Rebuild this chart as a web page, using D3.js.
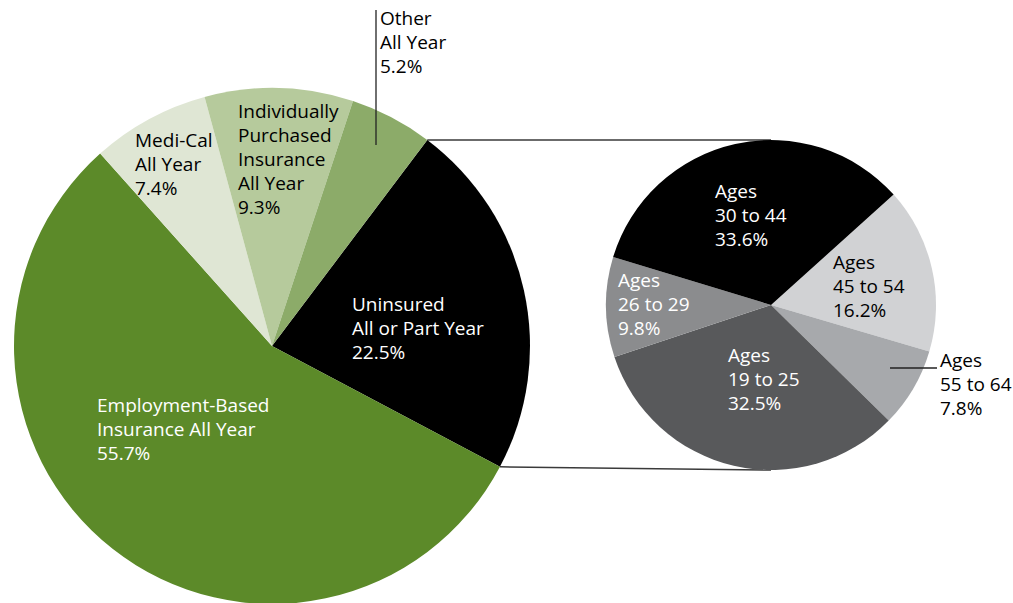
<!DOCTYPE html>
<html>
<head>
<meta charset="utf-8">
<script src="https://cdn.jsdelivr.net/npm/d3@7"></script>
<style>
  html, body { margin: 0; padding: 0; background: #fff; }
  svg { display: block; font-family: "Open Sans", "Noto Sans", sans-serif; }
</style>
</head>
<body>
<svg id="chart" width="1013" height="603"></svg>
<script>
// Insurance coverage (main pie)
const coverageLabels = [
  ["Uninsured", "All or Part Year"],
  ["Employment-Based", "Insurance All Year"],
  ["Medi-Cal", "All Year"],
  ["Individually", "Purchased", "Insurance", "All Year"],
  ["Other", "All Year"]
];
const coverageValues = [22.5, 55.7, 7.4, 9.3, 5.2];
const coverageColors = ["#000000", "#5c8a29", "#dfe6d4", "#b6ca9c", "#8cab69"];
const coverageText = ["#ffffff", "#ffffff", "#000000", "#000000", "#000000"];

// Uninsured by age (breakout pie)
const ageLabels = ["45 to 54", "55 to 64", "19 to 25", "26 to 29", "30 to 44"];
const ageValues = [16.2, 7.8, 32.5, 9.8, 33.6];
const ageColors = ["#d1d2d4", "#a7a9ac", "#58595b", "#8b8c8e", "#000000"];
const ageText = ["#000000", "#000000", "#ffffff", "#ffffff", "#ffffff"];

const svg = d3.select("#chart");
const deg = Math.PI / 180;

// Main pie geometry
const main = { cx: 272, cy: 346, r: 258, start: 37 * deg };
// Breakout pie geometry
const side = { cx: 771, cy: 305, r: 165, start: 48 * deg };

const mainPie = d3.pie().sort(null).value(d => d)
  .startAngle(main.start).endAngle(main.start + 2 * Math.PI);
const sidePie = d3.pie().sort(null).value(d => d)
  .startAngle(side.start).endAngle(side.start + 2 * Math.PI);

const mainArcs = mainPie(coverageValues);
const sideArcs = sidePie(ageValues);

const mainArc = d3.arc().innerRadius(0).outerRadius(main.r);
const sideArc = d3.arc().innerRadius(0).outerRadius(side.r);

// Connector lines from the uninsured slice to the breakout pie
const uninsured = mainArcs[0];
const onMain = a => [main.cx + main.r * Math.sin(a), main.cy - main.r * Math.cos(a)];
const pTop = onMain(uninsured.startAngle);
const pBot = onMain(uninsured.endAngle);
const connectors = [
  [pTop, [side.cx, side.cy - side.r]],
  [pBot, [side.cx, side.cy + side.r]]
];
svg.append("g").selectAll("line").data(connectors).join("line")
  .attr("x1", d => d[0][0]).attr("y1", d => d[0][1])
  .attr("x2", d => d[1][0]).attr("y2", d => d[1][1])
  .attr("stroke", "#3a3a3a").attr("stroke-width", 1.5);

svg.append("g").attr("transform", `translate(${main.cx},${main.cy})`)
  .selectAll("path").data(mainArcs).join("path")
  .attr("d", mainArc)
  .attr("fill", (d, i) => coverageColors[i]);

svg.append("g").attr("transform", `translate(${side.cx},${side.cy})`)
  .selectAll("path").data(sideArcs).join("path")
  .attr("d", sideArc)
  .attr("fill", (d, i) => ageColors[i]);

// Label anchors: left edge x and first baseline y
const coveragePos = [[352, 311], [97, 412], [135, 147], [238, 118], [380, 25]];
const agePos = [[833, 269], [940, 367], [728, 362], [618, 287], [715, 198]];
const lineH = 24;
const fontSize = 19;

function drawLabel(lines, pos, color) {
  const t = svg.append("text")
    .attr("x", pos[0]).attr("y", pos[1])
    .attr("fill", color)
    .style("font-size", fontSize + "px");
  lines.forEach((ln, j) => {
    t.append("tspan").attr("x", pos[0]).attr("y", pos[1] + j * lineH).text(ln);
  });
}

// Leader lines
svg.append("line").attr("x1", 376).attr("y1", 10).attr("x2", 376).attr("y2", 145)
  .attr("stroke", "#222").attr("stroke-width", 1.3);
svg.append("line").attr("x1", 890).attr("y1", 368).attr("x2", 937).attr("y2", 368)
  .attr("stroke", "#222").attr("stroke-width", 1.3);

coverageValues.forEach((v, i) => {
  drawLabel(coverageLabels[i].concat([v.toFixed(1) + "%"]), coveragePos[i], coverageText[i]);
});
ageValues.forEach((v, i) => {
  drawLabel(["Ages", ageLabels[i], v.toFixed(1) + "%"], agePos[i], ageText[i]);
});
</script>
</body>
</html>
